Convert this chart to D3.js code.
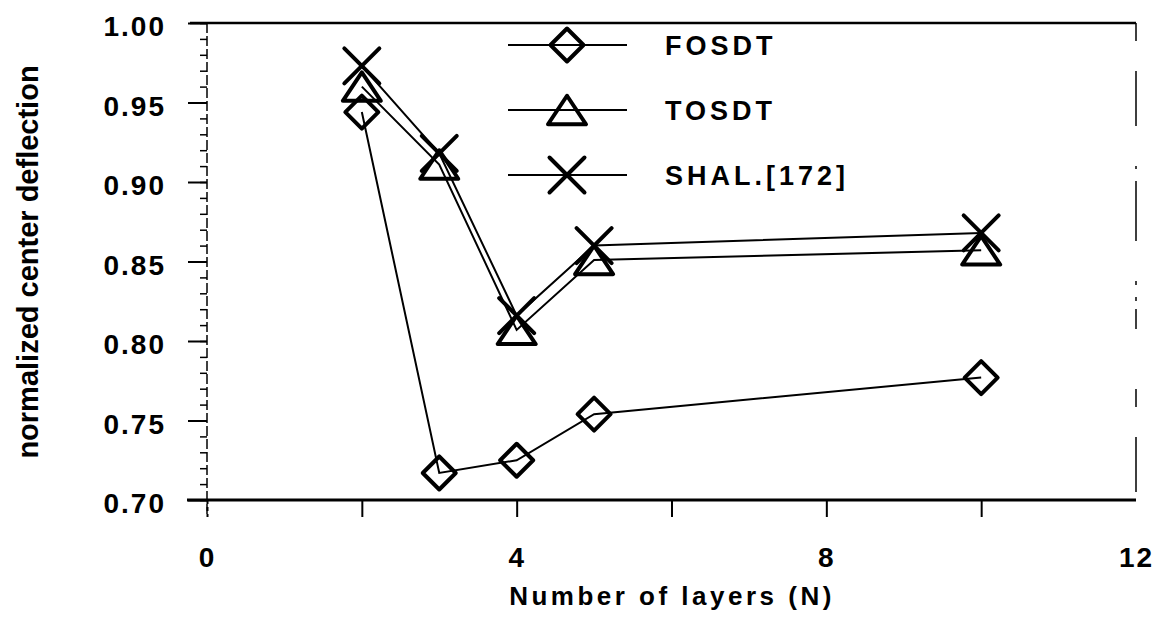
<!DOCTYPE html>
<html>
<head>
<meta charset="utf-8">
<script src="https://cdn.jsdelivr.net/npm/d3@7"></script>
<style>
  body { margin: 0; background: #fff; }
  text { font-family: "Liberation Sans", Arial, sans-serif; font-weight: bold; fill: #000; }
</style>
</head>
<body>
<svg class="chart"></svg>
<script>
var layers = [2, 3, 4, 5, 10];
var fosdt = [0.944, 0.717, 0.725, 0.754, 0.777];
var tosdt = [0.960, 0.911, 0.807, 0.851, 0.857];
var shal = [0.973, 0.918, 0.816, 0.860, 0.868];
var seriesNames = ["FOSDT", "TOSDT", "SHAL.[172]"];
var xTicks = [0, 2, 4, 6, 8, 10, 12];
var xLabels = [0, 4, 8, 12];
var yTicks = [0.70, 0.75, 0.80, 0.85, 0.90, 0.95, 1.00];

let w = 1163, h = 618;

var x = d3.scaleLinear().domain([0, 12]).range([207, 1136]);
var y = d3.scaleLinear().domain([0.70, 1.00]).range([500, 23]);

var svg = d3.select(".chart").attr("width", w).attr("height", h);

// marker shapes
function diamond(r) {
  return "M0," + (-r) + "L" + r + ",0L0," + r + "L" + (-r) + ",0Z";
}
function triangle(s) {
  return "M0," + (-s * 0.75) + "L" + s + "," + (s * 0.75) + "L" + (-s) + "," + (s * 0.75) + "Z";
}
function cross(s) {
  return "M" + (-s) + "," + (-s) + "L" + s + "," + s + "M" + (-s) + "," + s + "L" + s + "," + (-s);
}
var shapes = [diamond(16.5), triangle(19), cross(17.5)];

// frame
svg.append("line").attr("x1", 190).attr("x2", 1136).attr("y1", y(1)).attr("y2", y(1))
   .attr("stroke", "#000").attr("stroke-width", 2.5);
svg.append("line").attr("x1", 1136).attr("x2", 1136).attr("y1", y(1)).attr("y2", y(0.7))
   .attr("stroke", "#000").attr("stroke-width", 1.5).attr("stroke-dasharray", "18 30 55 40 3 12 60 40 4 12 4 8 20 60");

// y axis: major + minor ticks
var yMinor = d3.range(70, 101).map(d => d / 100);
svg.append("g")
   .attr("transform", "translate(207,0)")
   .call(d3.axisLeft(y).tickValues(yMinor).tickSize(7).tickFormat(""))
   .call(g => g.select(".domain").remove())
   .selectAll("line").attr("stroke-width", 1.5);

var yAx = svg.append("g")
   .attr("transform", "translate(207,0)")
   .call(d3.axisLeft(y).tickValues(yTicks).tickSize(19).tickPadding(22).tickFormat(d3.format(".2f")));
yAx.select(".domain").remove();
yAx.selectAll("line").attr("stroke-width", 2);
yAx.selectAll("text").attr("font-size", "28px").attr("dy", "0.45em").style("letter-spacing", "2px");

svg.append("line").attr("x1", 207).attr("x2", 207).attr("y1", y(1)).attr("y2", 517)
   .attr("stroke", "#000").attr("stroke-width", 1.5).attr("stroke-dasharray", "10 3");

// x axis
var xAx = svg.append("g")
   .attr("transform", "translate(0," + y(0.7) + ")")
   .call(d3.axisBottom(x).tickValues(xTicks).tickSize(17).tickPadding(30)
         .tickFormat(d => xLabels.indexOf(d) >= 0 ? d : ""));
xAx.select(".domain").remove();
xAx.selectAll("line").attr("stroke-width", 2)
   .attr("stroke-dasharray", d => d === 0 ? "4 3" : null)
   .attr("display", d => d === 12 ? "none" : null);
xAx.selectAll("text").attr("font-size", "28px").style("letter-spacing", "2px");
svg.append("line").attr("x1", 187).attr("x2", 1136).attr("y1", y(0.7)).attr("y2", y(0.7))
   .attr("stroke", "#000").attr("stroke-width", 3);

// axis titles
svg.append("text")
   .attr("x", 672).attr("y", 605)
   .attr("text-anchor", "middle")
   .attr("font-size", "26px")
   .style("letter-spacing", "3.5px")
   .text("Number of layers (N)");

svg.append("text")
   .attr("transform", "translate(38,262) rotate(-90)")
   .attr("text-anchor", "middle")
   .attr("font-size", "29px")
   .text("normalized center deflection");

// series
var series = [fosdt, tosdt, shal];
var line = d3.line().x(d => x(d[0])).y(d => y(d[1]));

series.forEach(function(vals, i) {
  var pts = layers.map((n, j) => [n, vals[j]]);
  svg.append("path").datum(pts)
     .attr("d", line)
     .attr("fill", "none").attr("stroke", "#000").attr("stroke-width", 2);
  svg.selectAll(".m" + i).data(pts).enter().append("path")
     .attr("class", "m" + i)
     .attr("transform", d => "translate(" + x(d[0]) + "," + y(d[1]) + ")")
     .attr("d", shapes[i])
     .attr("fill", "none").attr("stroke", "#000").attr("stroke-width", 4)
     .attr("stroke-linejoin", "round").attr("stroke-linecap", "round");
});

// legend
var legY = [45, 110, 175];
var leg = svg.append("g");
seriesNames.forEach(function(name, i) {
  leg.append("line").attr("x1", 508).attr("x2", 627).attr("y1", legY[i]).attr("y2", legY[i])
     .attr("stroke", "#000").attr("stroke-width", 2);
  leg.append("path").attr("transform", "translate(567," + legY[i] + ")")
     .attr("d", shapes[i])
     .attr("fill", "none").attr("stroke", "#000").attr("stroke-width", 4)
     .attr("stroke-linejoin", "round").attr("stroke-linecap", "round");
  leg.append("text").attr("x", 665).attr("y", legY[i] + 10)
     .attr("font-size", "27px")
     .attr("font-weight", i === 1 ? "normal" : "bold")
     .style("letter-spacing", "4px")
     .text(name);
});
</script>
</body>
</html>
